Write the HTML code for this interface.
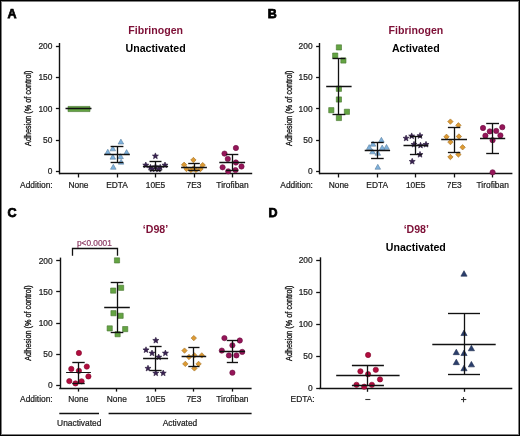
<!DOCTYPE html>
<html><head><meta charset="utf-8"><title>Figure</title>
<style>
html,body{margin:0;padding:0;background:#fff;}
body{width:520px;height:436px;overflow:hidden;font-family:"Liberation Sans",sans-serif;}
svg{display:block;will-change:transform;}
text{font-family:"Liberation Sans",sans-serif;}
</style></head><body>
<svg width="520" height="436" viewBox="0 0 520 436" font-family="Liberation Sans, sans-serif">
<rect x="0" y="0" width="520" height="436" fill="#fff"/>
<text x="7.60" y="17.90" font-size="12.5" text-anchor="start" font-weight="bold" fill="#000"  stroke="#000" stroke-width="0.75">A</text>
<text x="155.70" y="33.60" font-size="10.6" text-anchor="middle" font-weight="bold" fill="#7d0f36" >Fibrinogen</text>
<text x="155.60" y="51.90" font-size="10.6" text-anchor="middle" font-weight="bold" fill="#000" >Unactivated</text>
<line x1="59.50" y1="43.00" x2="59.50" y2="174.20" stroke="#111" stroke-width="1.4"/>
<line x1="55.90" y1="171.50" x2="59.70" y2="171.50" stroke="#111" stroke-width="1.3"/>
<text x="52.40" y="174.25" font-size="8.4" text-anchor="end" font-weight="normal" fill="#1c1c1c"  stroke="#1c1c1c" stroke-width="0.22">0</text>
<line x1="55.90" y1="140.50" x2="59.70" y2="140.50" stroke="#111" stroke-width="1.3"/>
<text x="52.40" y="142.95" font-size="8.4" text-anchor="end" font-weight="normal" fill="#1c1c1c"  stroke="#1c1c1c" stroke-width="0.22">50</text>
<line x1="55.90" y1="108.50" x2="59.70" y2="108.50" stroke="#111" stroke-width="1.3"/>
<text x="52.40" y="111.65" font-size="8.4" text-anchor="end" font-weight="normal" fill="#1c1c1c"  stroke="#1c1c1c" stroke-width="0.22">100</text>
<line x1="55.90" y1="77.50" x2="59.70" y2="77.50" stroke="#111" stroke-width="1.3"/>
<text x="52.40" y="80.35" font-size="8.4" text-anchor="end" font-weight="normal" fill="#1c1c1c"  stroke="#1c1c1c" stroke-width="0.22">150</text>
<line x1="55.90" y1="46.50" x2="59.70" y2="46.50" stroke="#111" stroke-width="1.3"/>
<text x="52.40" y="49.05" font-size="8.4" text-anchor="end" font-weight="normal" fill="#1c1c1c"  stroke="#1c1c1c" stroke-width="0.22">200</text>
<text transform="translate(31.40,108.20) rotate(-90)" x="0" y="0" font-size="8.3" text-anchor="middle" fill="#111" stroke="#111" stroke-width="0.3" textLength="75.5" lengthAdjust="spacingAndGlyphs">Adhesion (% of control)</text>
<line x1="59.00" y1="173.50" x2="252.20" y2="173.50" stroke="#111" stroke-width="1.4"/>
<line x1="78.50" y1="173.85" x2="78.50" y2="177.45" stroke="#111" stroke-width="1.3"/>
<line x1="117.50" y1="173.85" x2="117.50" y2="177.45" stroke="#111" stroke-width="1.3"/>
<line x1="155.50" y1="173.85" x2="155.50" y2="177.45" stroke="#111" stroke-width="1.3"/>
<line x1="194.50" y1="173.85" x2="194.50" y2="177.45" stroke="#111" stroke-width="1.3"/>
<line x1="232.50" y1="173.85" x2="232.50" y2="177.45" stroke="#111" stroke-width="1.3"/>
<text x="20.10" y="188.00" font-size="8.4" text-anchor="start" font-weight="normal" fill="#1c1c1c"  stroke="#1c1c1c" stroke-width="0.22">Addition:</text>
<text x="78.50" y="188.00" font-size="8.4" text-anchor="middle" font-weight="normal" fill="#1c1c1c"  stroke="#1c1c1c" stroke-width="0.22">None</text>
<text x="117.00" y="188.00" font-size="8.4" text-anchor="middle" font-weight="normal" fill="#1c1c1c"  stroke="#1c1c1c" stroke-width="0.22">EDTA</text>
<text x="155.50" y="188.00" font-size="8.4" text-anchor="middle" font-weight="normal" fill="#1c1c1c"  stroke="#1c1c1c" stroke-width="0.22">10E5</text>
<text x="194.00" y="188.00" font-size="8.4" text-anchor="middle" font-weight="normal" fill="#1c1c1c"  stroke="#1c1c1c" stroke-width="0.22">7E3</text>
<text x="232.50" y="188.00" font-size="8.4" text-anchor="middle" font-weight="normal" fill="#1c1c1c"  stroke="#1c1c1c" stroke-width="0.22">Tirofiban</text>
<rect x="68.00" y="106.40" width="22.0" height="5.2" fill="#64a443" stroke="#487630" stroke-width="0.6" stroke-linejoin="round"/>
<line x1="78.50" y1="108.50" x2="78.50" y2="108.50" stroke="#111" stroke-width="1.3"/>
<line x1="78.50" y1="108.50" x2="78.50" y2="108.50" stroke="#111" stroke-width="1.35"/>
<line x1="78.50" y1="108.50" x2="78.50" y2="108.50" stroke="#111" stroke-width="1.35"/>
<line x1="65.50" y1="108.50" x2="91.50" y2="108.50" stroke="#111" stroke-width="1.5"/>
<polygon points="120.90,139.10 123.70,144.03 118.10,144.03" fill="#7eb1dc" stroke="#5a7f9e" stroke-width="0.6" stroke-linejoin="round"/>
<polygon points="107.80,149.20 110.60,154.13 105.00,154.13" fill="#7eb1dc" stroke="#5a7f9e" stroke-width="0.6" stroke-linejoin="round"/>
<polygon points="126.60,149.60 129.40,154.53 123.80,154.53" fill="#7eb1dc" stroke="#5a7f9e" stroke-width="0.6" stroke-linejoin="round"/>
<polygon points="112.80,145.90 115.60,150.83 110.00,150.83" fill="#7eb1dc" stroke="#5a7f9e" stroke-width="0.6" stroke-linejoin="round"/>
<polygon points="112.80,154.20 115.60,159.13 110.00,159.13" fill="#7eb1dc" stroke="#5a7f9e" stroke-width="0.6" stroke-linejoin="round"/>
<polygon points="120.60,153.70 123.40,158.63 117.80,158.63" fill="#7eb1dc" stroke="#5a7f9e" stroke-width="0.6" stroke-linejoin="round"/>
<polygon points="121.10,159.20 123.90,164.13 118.30,164.13" fill="#7eb1dc" stroke="#5a7f9e" stroke-width="0.6" stroke-linejoin="round"/>
<polygon points="113.30,164.30 116.10,169.23 110.50,169.23" fill="#7eb1dc" stroke="#5a7f9e" stroke-width="0.6" stroke-linejoin="round"/>
<line x1="117.50" y1="146.50" x2="117.50" y2="162.70" stroke="#111" stroke-width="1.3"/>
<line x1="110.60" y1="146.50" x2="123.40" y2="146.50" stroke="#111" stroke-width="1.35"/>
<line x1="110.60" y1="162.50" x2="123.40" y2="162.50" stroke="#111" stroke-width="1.35"/>
<line x1="104.20" y1="154.50" x2="129.80" y2="154.50" stroke="#111" stroke-width="1.5"/>
<polygon points="155.40,152.90 156.22,154.97 158.44,155.11 156.73,156.53 157.28,158.69 155.40,157.50 153.52,158.69 154.07,156.53 152.36,155.11 154.58,154.97" fill="#3a2352" stroke="#29193b" stroke-width="0.6" stroke-linejoin="round"/>
<polygon points="145.80,162.00 146.62,164.07 148.84,164.21 147.13,165.63 147.68,167.79 145.80,166.60 143.92,167.79 144.47,165.63 142.76,164.21 144.98,164.07" fill="#3a2352" stroke="#29193b" stroke-width="0.6" stroke-linejoin="round"/>
<polygon points="165.00,162.00 165.82,164.07 168.04,164.21 166.33,165.63 166.88,167.79 165.00,166.60 163.12,167.79 163.67,165.63 161.96,164.21 164.18,164.07" fill="#3a2352" stroke="#29193b" stroke-width="0.6" stroke-linejoin="round"/>
<polygon points="150.50,164.30 151.32,166.37 153.54,166.51 151.83,167.93 152.38,170.09 150.50,168.90 148.62,170.09 149.17,167.93 147.46,166.51 149.68,166.37" fill="#3a2352" stroke="#29193b" stroke-width="0.6" stroke-linejoin="round"/>
<polygon points="155.50,163.60 156.32,165.67 158.54,165.81 156.83,167.23 157.38,169.39 155.50,168.20 153.62,169.39 154.17,167.23 152.46,165.81 154.68,165.67" fill="#3a2352" stroke="#29193b" stroke-width="0.6" stroke-linejoin="round"/>
<polygon points="160.20,164.30 161.02,166.37 163.24,166.51 161.53,167.93 162.08,170.09 160.20,168.90 158.32,170.09 158.87,167.93 157.16,166.51 159.38,166.37" fill="#3a2352" stroke="#29193b" stroke-width="0.6" stroke-linejoin="round"/>
<polygon points="152.20,166.00 153.02,168.07 155.24,168.21 153.53,169.63 154.08,171.79 152.20,170.60 150.32,171.79 150.87,169.63 149.16,168.21 151.38,168.07" fill="#3a2352" stroke="#29193b" stroke-width="0.6" stroke-linejoin="round"/>
<polygon points="158.40,166.20 159.22,168.27 161.44,168.41 159.73,169.83 160.28,171.99 158.40,170.80 156.52,171.99 157.07,169.83 155.36,168.41 157.58,168.27" fill="#3a2352" stroke="#29193b" stroke-width="0.6" stroke-linejoin="round"/>
<line x1="155.50" y1="161.70" x2="155.50" y2="170.40" stroke="#111" stroke-width="1.3"/>
<line x1="149.50" y1="161.50" x2="161.50" y2="161.50" stroke="#111" stroke-width="1.35"/>
<line x1="149.50" y1="170.50" x2="161.50" y2="170.50" stroke="#111" stroke-width="1.35"/>
<line x1="142.90" y1="166.50" x2="168.10" y2="166.50" stroke="#111" stroke-width="1.5"/>
<polygon points="193.40,157.30 196.10,160.00 193.40,162.70 190.70,160.00" fill="#dd9a33" stroke="#9f6e24" stroke-width="0.6" stroke-linejoin="round"/>
<polygon points="184.10,162.10 186.80,164.80 184.10,167.50 181.40,164.80" fill="#dd9a33" stroke="#9f6e24" stroke-width="0.6" stroke-linejoin="round"/>
<polygon points="202.70,162.40 205.40,165.10 202.70,167.80 200.00,165.10" fill="#dd9a33" stroke="#9f6e24" stroke-width="0.6" stroke-linejoin="round"/>
<polygon points="186.50,166.30 189.20,169.00 186.50,171.70 183.80,169.00" fill="#dd9a33" stroke="#9f6e24" stroke-width="0.6" stroke-linejoin="round"/>
<polygon points="191.00,167.30 193.70,170.00 191.00,172.70 188.30,170.00" fill="#dd9a33" stroke="#9f6e24" stroke-width="0.6" stroke-linejoin="round"/>
<polygon points="196.00,167.30 198.70,170.00 196.00,172.70 193.30,170.00" fill="#dd9a33" stroke="#9f6e24" stroke-width="0.6" stroke-linejoin="round"/>
<polygon points="200.50,166.30 203.20,169.00 200.50,171.70 197.80,169.00" fill="#dd9a33" stroke="#9f6e24" stroke-width="0.6" stroke-linejoin="round"/>
<polygon points="193.50,165.80 196.20,168.50 193.50,171.20 190.80,168.50" fill="#dd9a33" stroke="#9f6e24" stroke-width="0.6" stroke-linejoin="round"/>
<line x1="194.50" y1="163.70" x2="194.50" y2="170.80" stroke="#111" stroke-width="1.3"/>
<line x1="188.20" y1="163.50" x2="199.80" y2="163.50" stroke="#111" stroke-width="1.35"/>
<line x1="188.20" y1="170.50" x2="199.80" y2="170.50" stroke="#111" stroke-width="1.35"/>
<line x1="181.10" y1="167.50" x2="206.90" y2="167.50" stroke="#111" stroke-width="1.5"/>
<circle cx="235.90" cy="148.00" r="2.65" fill="#951559" stroke="#6b0f40" stroke-width="0.6" stroke-linejoin="round"/>
<circle cx="224.50" cy="153.60" r="2.65" fill="#951559" stroke="#6b0f40" stroke-width="0.6" stroke-linejoin="round"/>
<circle cx="227.80" cy="158.90" r="2.65" fill="#951559" stroke="#6b0f40" stroke-width="0.6" stroke-linejoin="round"/>
<circle cx="235.90" cy="162.50" r="2.65" fill="#951559" stroke="#6b0f40" stroke-width="0.6" stroke-linejoin="round"/>
<circle cx="222.60" cy="167.30" r="2.65" fill="#951559" stroke="#6b0f40" stroke-width="0.6" stroke-linejoin="round"/>
<circle cx="241.50" cy="166.50" r="2.65" fill="#951559" stroke="#6b0f40" stroke-width="0.6" stroke-linejoin="round"/>
<circle cx="228.20" cy="171.30" r="2.65" fill="#951559" stroke="#6b0f40" stroke-width="0.6" stroke-linejoin="round"/>
<circle cx="235.50" cy="170.10" r="2.65" fill="#951559" stroke="#6b0f40" stroke-width="0.6" stroke-linejoin="round"/>
<line x1="232.50" y1="154.30" x2="232.50" y2="170.50" stroke="#111" stroke-width="1.3"/>
<line x1="226.10" y1="154.50" x2="238.30" y2="154.50" stroke="#111" stroke-width="1.35"/>
<line x1="226.10" y1="170.50" x2="238.30" y2="170.50" stroke="#111" stroke-width="1.35"/>
<line x1="219.30" y1="162.50" x2="245.10" y2="162.50" stroke="#111" stroke-width="1.5"/>
<text x="267.80" y="17.90" font-size="12.5" text-anchor="start" font-weight="bold" fill="#000"  stroke="#000" stroke-width="0.75">B</text>
<text x="415.90" y="33.60" font-size="10.6" text-anchor="middle" font-weight="bold" fill="#7d0f36" >Fibrinogen</text>
<text x="415.80" y="51.90" font-size="10.6" text-anchor="middle" font-weight="bold" fill="#000" >Activated</text>
<line x1="319.50" y1="43.00" x2="319.50" y2="174.20" stroke="#111" stroke-width="1.4"/>
<line x1="316.10" y1="171.50" x2="319.90" y2="171.50" stroke="#111" stroke-width="1.3"/>
<text x="312.60" y="174.25" font-size="8.4" text-anchor="end" font-weight="normal" fill="#1c1c1c"  stroke="#1c1c1c" stroke-width="0.22">0</text>
<line x1="316.10" y1="140.50" x2="319.90" y2="140.50" stroke="#111" stroke-width="1.3"/>
<text x="312.60" y="142.95" font-size="8.4" text-anchor="end" font-weight="normal" fill="#1c1c1c"  stroke="#1c1c1c" stroke-width="0.22">50</text>
<line x1="316.10" y1="108.50" x2="319.90" y2="108.50" stroke="#111" stroke-width="1.3"/>
<text x="312.60" y="111.65" font-size="8.4" text-anchor="end" font-weight="normal" fill="#1c1c1c"  stroke="#1c1c1c" stroke-width="0.22">100</text>
<line x1="316.10" y1="77.50" x2="319.90" y2="77.50" stroke="#111" stroke-width="1.3"/>
<text x="312.60" y="80.35" font-size="8.4" text-anchor="end" font-weight="normal" fill="#1c1c1c"  stroke="#1c1c1c" stroke-width="0.22">150</text>
<line x1="316.10" y1="46.50" x2="319.90" y2="46.50" stroke="#111" stroke-width="1.3"/>
<text x="312.60" y="49.05" font-size="8.4" text-anchor="end" font-weight="normal" fill="#1c1c1c"  stroke="#1c1c1c" stroke-width="0.22">200</text>
<text transform="translate(291.60,108.20) rotate(-90)" x="0" y="0" font-size="8.3" text-anchor="middle" fill="#111" stroke="#111" stroke-width="0.3" textLength="75.5" lengthAdjust="spacingAndGlyphs">Adhesion (% of control)</text>
<line x1="319.20" y1="173.50" x2="512.40" y2="173.50" stroke="#111" stroke-width="1.4"/>
<line x1="338.50" y1="173.85" x2="338.50" y2="177.45" stroke="#111" stroke-width="1.3"/>
<line x1="377.50" y1="173.85" x2="377.50" y2="177.45" stroke="#111" stroke-width="1.3"/>
<line x1="415.50" y1="173.85" x2="415.50" y2="177.45" stroke="#111" stroke-width="1.3"/>
<line x1="454.50" y1="173.85" x2="454.50" y2="177.45" stroke="#111" stroke-width="1.3"/>
<line x1="492.50" y1="173.85" x2="492.50" y2="177.45" stroke="#111" stroke-width="1.3"/>
<text x="280.30" y="188.00" font-size="8.4" text-anchor="start" font-weight="normal" fill="#1c1c1c"  stroke="#1c1c1c" stroke-width="0.22">Addition:</text>
<text x="338.70" y="188.00" font-size="8.4" text-anchor="middle" font-weight="normal" fill="#1c1c1c"  stroke="#1c1c1c" stroke-width="0.22">None</text>
<text x="377.20" y="188.00" font-size="8.4" text-anchor="middle" font-weight="normal" fill="#1c1c1c"  stroke="#1c1c1c" stroke-width="0.22">EDTA</text>
<text x="415.70" y="188.00" font-size="8.4" text-anchor="middle" font-weight="normal" fill="#1c1c1c"  stroke="#1c1c1c" stroke-width="0.22">10E5</text>
<text x="454.20" y="188.00" font-size="8.4" text-anchor="middle" font-weight="normal" fill="#1c1c1c"  stroke="#1c1c1c" stroke-width="0.22">7E3</text>
<text x="492.70" y="188.00" font-size="8.4" text-anchor="middle" font-weight="normal" fill="#1c1c1c"  stroke="#1c1c1c" stroke-width="0.22">Tirofiban</text>
<rect x="336.30" y="44.80" width="5.20" height="5.20" fill="#64a443" stroke="#487630" stroke-width="0.6" stroke-linejoin="round"/>
<rect x="332.60" y="53.00" width="5.20" height="5.20" fill="#64a443" stroke="#487630" stroke-width="0.6" stroke-linejoin="round"/>
<rect x="340.80" y="57.90" width="5.20" height="5.20" fill="#64a443" stroke="#487630" stroke-width="0.6" stroke-linejoin="round"/>
<rect x="336.30" y="86.20" width="5.20" height="5.20" fill="#64a443" stroke="#487630" stroke-width="0.6" stroke-linejoin="round"/>
<rect x="336.30" y="96.90" width="5.20" height="5.20" fill="#64a443" stroke="#487630" stroke-width="0.6" stroke-linejoin="round"/>
<rect x="328.70" y="107.60" width="5.20" height="5.20" fill="#64a443" stroke="#487630" stroke-width="0.6" stroke-linejoin="round"/>
<rect x="344.30" y="109.20" width="5.20" height="5.20" fill="#64a443" stroke="#487630" stroke-width="0.6" stroke-linejoin="round"/>
<rect x="336.30" y="115.40" width="5.20" height="5.20" fill="#64a443" stroke="#487630" stroke-width="0.6" stroke-linejoin="round"/>
<line x1="338.50" y1="58.10" x2="338.50" y2="114.10" stroke="#111" stroke-width="1.3"/>
<line x1="332.50" y1="58.50" x2="345.30" y2="58.50" stroke="#111" stroke-width="1.35"/>
<line x1="332.50" y1="114.50" x2="345.30" y2="114.50" stroke="#111" stroke-width="1.35"/>
<line x1="326.20" y1="86.50" x2="351.60" y2="86.50" stroke="#111" stroke-width="1.5"/>
<polygon points="381.40,137.30 384.20,142.23 378.60,142.23" fill="#7eb1dc" stroke="#5a7f9e" stroke-width="0.6" stroke-linejoin="round"/>
<polygon points="373.00,141.20 375.80,146.13 370.20,146.13" fill="#7eb1dc" stroke="#5a7f9e" stroke-width="0.6" stroke-linejoin="round"/>
<polygon points="369.20,144.60 372.00,149.53 366.40,149.53" fill="#7eb1dc" stroke="#5a7f9e" stroke-width="0.6" stroke-linejoin="round"/>
<polygon points="386.50,144.40 389.30,149.33 383.70,149.33" fill="#7eb1dc" stroke="#5a7f9e" stroke-width="0.6" stroke-linejoin="round"/>
<polygon points="382.20,145.00 385.00,149.93 379.40,149.93" fill="#7eb1dc" stroke="#5a7f9e" stroke-width="0.6" stroke-linejoin="round"/>
<polygon points="372.50,148.90 375.30,153.83 369.70,153.83" fill="#7eb1dc" stroke="#5a7f9e" stroke-width="0.6" stroke-linejoin="round"/>
<polygon points="377.80,150.30 380.60,155.23 375.00,155.23" fill="#7eb1dc" stroke="#5a7f9e" stroke-width="0.6" stroke-linejoin="round"/>
<polygon points="377.80,164.30 380.60,169.23 375.00,169.23" fill="#7eb1dc" stroke="#5a7f9e" stroke-width="0.6" stroke-linejoin="round"/>
<line x1="377.50" y1="142.20" x2="377.50" y2="158.00" stroke="#111" stroke-width="1.3"/>
<line x1="371.10" y1="142.50" x2="383.70" y2="142.50" stroke="#111" stroke-width="1.35"/>
<line x1="371.10" y1="158.50" x2="383.70" y2="158.50" stroke="#111" stroke-width="1.35"/>
<line x1="364.70" y1="150.50" x2="390.10" y2="150.50" stroke="#111" stroke-width="1.5"/>
<polygon points="406.10,135.10 406.92,137.17 409.14,137.31 407.43,138.73 407.98,140.89 406.10,139.70 404.22,140.89 404.77,138.73 403.06,137.31 405.28,137.17" fill="#3a2352" stroke="#29193b" stroke-width="0.6" stroke-linejoin="round"/>
<polygon points="411.70,132.90 412.52,134.97 414.74,135.11 413.03,136.53 413.58,138.69 411.70,137.50 409.82,138.69 410.37,136.53 408.66,135.11 410.88,134.97" fill="#3a2352" stroke="#29193b" stroke-width="0.6" stroke-linejoin="round"/>
<polygon points="420.00,132.60 420.82,134.67 423.04,134.81 421.33,136.23 421.88,138.39 420.00,137.20 418.12,138.39 418.67,136.23 416.96,134.81 419.18,134.67" fill="#3a2352" stroke="#29193b" stroke-width="0.6" stroke-linejoin="round"/>
<polygon points="414.00,141.30 414.82,143.37 417.04,143.51 415.33,144.93 415.88,147.09 414.00,145.90 412.12,147.09 412.67,144.93 410.96,143.51 413.18,143.37" fill="#3a2352" stroke="#29193b" stroke-width="0.6" stroke-linejoin="round"/>
<polygon points="420.50,142.20 421.32,144.27 423.54,144.41 421.83,145.83 422.38,147.99 420.50,146.80 418.62,147.99 419.17,145.83 417.46,144.41 419.68,144.27" fill="#3a2352" stroke="#29193b" stroke-width="0.6" stroke-linejoin="round"/>
<polygon points="426.00,141.30 426.82,143.37 429.04,143.51 427.33,144.93 427.88,147.09 426.00,145.90 424.12,147.09 424.67,144.93 422.96,143.51 425.18,143.37" fill="#3a2352" stroke="#29193b" stroke-width="0.6" stroke-linejoin="round"/>
<polygon points="420.00,151.40 420.82,153.47 423.04,153.61 421.33,155.03 421.88,157.19 420.00,156.00 418.12,157.19 418.67,155.03 416.96,153.61 419.18,153.47" fill="#3a2352" stroke="#29193b" stroke-width="0.6" stroke-linejoin="round"/>
<polygon points="412.20,158.30 413.02,160.37 415.24,160.51 413.53,161.93 414.08,164.09 412.20,162.90 410.32,164.09 410.87,161.93 409.16,160.51 411.38,160.37" fill="#3a2352" stroke="#29193b" stroke-width="0.6" stroke-linejoin="round"/>
<line x1="415.50" y1="136.40" x2="415.50" y2="154.10" stroke="#111" stroke-width="1.3"/>
<line x1="409.90" y1="136.50" x2="421.90" y2="136.50" stroke="#111" stroke-width="1.35"/>
<line x1="409.90" y1="154.50" x2="421.90" y2="154.50" stroke="#111" stroke-width="1.35"/>
<line x1="403.50" y1="145.50" x2="428.30" y2="145.50" stroke="#111" stroke-width="1.5"/>
<polygon points="450.40,118.90 453.10,121.60 450.40,124.30 447.70,121.60" fill="#dd9a33" stroke="#9f6e24" stroke-width="0.6" stroke-linejoin="round"/>
<polygon points="458.40,122.60 461.10,125.30 458.40,128.00 455.70,125.30" fill="#dd9a33" stroke="#9f6e24" stroke-width="0.6" stroke-linejoin="round"/>
<polygon points="446.50,134.10 449.20,136.80 446.50,139.50 443.80,136.80" fill="#dd9a33" stroke="#9f6e24" stroke-width="0.6" stroke-linejoin="round"/>
<polygon points="458.90,133.80 461.60,136.50 458.90,139.20 456.20,136.50" fill="#dd9a33" stroke="#9f6e24" stroke-width="0.6" stroke-linejoin="round"/>
<polygon points="450.40,139.40 453.10,142.10 450.40,144.80 447.70,142.10" fill="#dd9a33" stroke="#9f6e24" stroke-width="0.6" stroke-linejoin="round"/>
<polygon points="462.60,144.60 465.30,147.30 462.60,150.00 459.90,147.30" fill="#dd9a33" stroke="#9f6e24" stroke-width="0.6" stroke-linejoin="round"/>
<polygon points="458.40,151.80 461.10,154.50 458.40,157.20 455.70,154.50" fill="#dd9a33" stroke="#9f6e24" stroke-width="0.6" stroke-linejoin="round"/>
<polygon points="450.40,154.30 453.10,157.00 450.40,159.70 447.70,157.00" fill="#dd9a33" stroke="#9f6e24" stroke-width="0.6" stroke-linejoin="round"/>
<line x1="454.50" y1="127.20" x2="454.50" y2="152.60" stroke="#111" stroke-width="1.3"/>
<line x1="447.90" y1="127.50" x2="460.30" y2="127.50" stroke="#111" stroke-width="1.35"/>
<line x1="447.90" y1="152.50" x2="460.30" y2="152.50" stroke="#111" stroke-width="1.35"/>
<line x1="441.20" y1="139.50" x2="467.00" y2="139.50" stroke="#111" stroke-width="1.5"/>
<circle cx="483.00" cy="128.00" r="2.65" fill="#951559" stroke="#6b0f40" stroke-width="0.6" stroke-linejoin="round"/>
<circle cx="502.30" cy="127.20" r="2.65" fill="#951559" stroke="#6b0f40" stroke-width="0.6" stroke-linejoin="round"/>
<circle cx="489.80" cy="131.40" r="2.65" fill="#951559" stroke="#6b0f40" stroke-width="0.6" stroke-linejoin="round"/>
<circle cx="496.20" cy="130.90" r="2.65" fill="#951559" stroke="#6b0f40" stroke-width="0.6" stroke-linejoin="round"/>
<circle cx="485.40" cy="135.70" r="2.65" fill="#951559" stroke="#6b0f40" stroke-width="0.6" stroke-linejoin="round"/>
<circle cx="500.40" cy="135.40" r="2.65" fill="#951559" stroke="#6b0f40" stroke-width="0.6" stroke-linejoin="round"/>
<circle cx="492.60" cy="140.20" r="2.65" fill="#951559" stroke="#6b0f40" stroke-width="0.6" stroke-linejoin="round"/>
<circle cx="492.60" cy="172.30" r="2.65" fill="#951559" stroke="#6b0f40" stroke-width="0.6" stroke-linejoin="round"/>
<line x1="492.50" y1="123.20" x2="492.50" y2="153.00" stroke="#111" stroke-width="1.3"/>
<line x1="486.20" y1="123.50" x2="499.00" y2="123.50" stroke="#111" stroke-width="1.35"/>
<line x1="486.20" y1="153.50" x2="499.00" y2="153.50" stroke="#111" stroke-width="1.35"/>
<line x1="480.00" y1="138.50" x2="505.20" y2="138.50" stroke="#111" stroke-width="1.5"/>
<text x="7.60" y="217.20" font-size="12.5" text-anchor="start" font-weight="bold" fill="#000"  stroke="#000" stroke-width="0.75">C</text>
<text x="155.50" y="233.00" font-size="10.6" text-anchor="middle" font-weight="bold" fill="#7d0f36" >‘D98’</text>
<line x1="60.50" y1="257.60" x2="60.50" y2="388.60" stroke="#111" stroke-width="1.4"/>
<line x1="56.20" y1="385.50" x2="60.00" y2="385.50" stroke="#111" stroke-width="1.3"/>
<text x="52.70" y="388.45" font-size="8.4" text-anchor="end" font-weight="normal" fill="#1c1c1c"  stroke="#1c1c1c" stroke-width="0.22">0</text>
<line x1="56.20" y1="354.50" x2="60.00" y2="354.50" stroke="#111" stroke-width="1.3"/>
<text x="52.70" y="357.22" font-size="8.4" text-anchor="end" font-weight="normal" fill="#1c1c1c"  stroke="#1c1c1c" stroke-width="0.22">50</text>
<line x1="56.20" y1="323.50" x2="60.00" y2="323.50" stroke="#111" stroke-width="1.3"/>
<text x="52.70" y="326.00" font-size="8.4" text-anchor="end" font-weight="normal" fill="#1c1c1c"  stroke="#1c1c1c" stroke-width="0.22">100</text>
<line x1="56.20" y1="291.50" x2="60.00" y2="291.50" stroke="#111" stroke-width="1.3"/>
<text x="52.70" y="294.78" font-size="8.4" text-anchor="end" font-weight="normal" fill="#1c1c1c"  stroke="#1c1c1c" stroke-width="0.22">150</text>
<line x1="56.20" y1="260.50" x2="60.00" y2="260.50" stroke="#111" stroke-width="1.3"/>
<text x="52.70" y="263.55" font-size="8.4" text-anchor="end" font-weight="normal" fill="#1c1c1c"  stroke="#1c1c1c" stroke-width="0.22">200</text>
<text transform="translate(31.40,323.00) rotate(-90)" x="0" y="0" font-size="8.3" text-anchor="middle" fill="#111" stroke="#111" stroke-width="0.3" textLength="75.5" lengthAdjust="spacingAndGlyphs">Adhesion (% of control)</text>
<line x1="59.30" y1="388.50" x2="251.60" y2="388.50" stroke="#111" stroke-width="1.4"/>
<line x1="78.50" y1="388.00" x2="78.50" y2="391.60" stroke="#111" stroke-width="1.3"/>
<line x1="116.50" y1="388.00" x2="116.50" y2="391.60" stroke="#111" stroke-width="1.3"/>
<line x1="155.50" y1="388.00" x2="155.50" y2="391.60" stroke="#111" stroke-width="1.3"/>
<line x1="193.50" y1="388.00" x2="193.50" y2="391.60" stroke="#111" stroke-width="1.3"/>
<line x1="232.50" y1="388.00" x2="232.50" y2="391.60" stroke="#111" stroke-width="1.3"/>
<text x="20.10" y="402.30" font-size="8.4" text-anchor="start" font-weight="normal" fill="#1c1c1c"  stroke="#1c1c1c" stroke-width="0.22">Addition:</text>
<text x="78.30" y="402.30" font-size="8.4" text-anchor="middle" font-weight="normal" fill="#1c1c1c"  stroke="#1c1c1c" stroke-width="0.22">None</text>
<text x="116.80" y="402.30" font-size="8.4" text-anchor="middle" font-weight="normal" fill="#1c1c1c"  stroke="#1c1c1c" stroke-width="0.22">None</text>
<text x="155.60" y="402.30" font-size="8.4" text-anchor="middle" font-weight="normal" fill="#1c1c1c"  stroke="#1c1c1c" stroke-width="0.22">10E5</text>
<text x="193.90" y="402.30" font-size="8.4" text-anchor="middle" font-weight="normal" fill="#1c1c1c"  stroke="#1c1c1c" stroke-width="0.22">7E3</text>
<text x="232.40" y="402.30" font-size="8.4" text-anchor="middle" font-weight="normal" fill="#1c1c1c"  stroke="#1c1c1c" stroke-width="0.22">Tirofiban</text>
<polyline points="72.5,255.8 72.5,248.5 117.5,248.5 117.5,255.8" fill="none" stroke="#111" stroke-width="1.3"/>
<text x="94.40" y="246.10" font-size="8.3" text-anchor="middle" font-weight="normal" fill="#8f3f68"  stroke="#8f3f68" stroke-width="0.22">p&lt;0.0001</text>
<line x1="59.30" y1="413.50" x2="99.00" y2="413.50" stroke="#111" stroke-width="1.4"/>
<line x1="108.60" y1="413.50" x2="251.60" y2="413.50" stroke="#111" stroke-width="1.4"/>
<text x="79.20" y="425.80" font-size="8.4" text-anchor="middle" font-weight="normal" fill="#1c1c1c"  stroke="#1c1c1c" stroke-width="0.22">Unactivated</text>
<text x="180.00" y="425.60" font-size="8.4" text-anchor="middle" font-weight="normal" fill="#1c1c1c"  stroke="#1c1c1c" stroke-width="0.22">Activated</text>
<circle cx="78.90" cy="353.00" r="2.65" fill="#b20c3e" stroke="#80082c" stroke-width="0.6" stroke-linejoin="round"/>
<circle cx="71.30" cy="368.90" r="2.65" fill="#b20c3e" stroke="#80082c" stroke-width="0.6" stroke-linejoin="round"/>
<circle cx="86.80" cy="366.60" r="2.65" fill="#b20c3e" stroke="#80082c" stroke-width="0.6" stroke-linejoin="round"/>
<circle cx="78.90" cy="370.80" r="2.65" fill="#b20c3e" stroke="#80082c" stroke-width="0.6" stroke-linejoin="round"/>
<circle cx="88.40" cy="376.40" r="2.65" fill="#b20c3e" stroke="#80082c" stroke-width="0.6" stroke-linejoin="round"/>
<circle cx="69.30" cy="381.10" r="2.65" fill="#b20c3e" stroke="#80082c" stroke-width="0.6" stroke-linejoin="round"/>
<circle cx="75.50" cy="383.40" r="2.65" fill="#b20c3e" stroke="#80082c" stroke-width="0.6" stroke-linejoin="round"/>
<circle cx="81.60" cy="381.30" r="2.65" fill="#b20c3e" stroke="#80082c" stroke-width="0.6" stroke-linejoin="round"/>
<line x1="78.50" y1="362.30" x2="78.50" y2="383.00" stroke="#111" stroke-width="1.3"/>
<line x1="72.30" y1="362.50" x2="84.70" y2="362.50" stroke="#111" stroke-width="1.35"/>
<line x1="72.30" y1="383.50" x2="84.70" y2="383.50" stroke="#111" stroke-width="1.35"/>
<line x1="66.10" y1="372.50" x2="90.90" y2="372.50" stroke="#111" stroke-width="False"/>
<rect x="114.40" y="257.80" width="5.20" height="5.20" fill="#64a443" stroke="#487630" stroke-width="0.6" stroke-linejoin="round"/>
<rect x="110.60" y="288.00" width="5.20" height="5.20" fill="#64a443" stroke="#487630" stroke-width="0.6" stroke-linejoin="round"/>
<rect x="118.50" y="285.20" width="5.20" height="5.20" fill="#64a443" stroke="#487630" stroke-width="0.6" stroke-linejoin="round"/>
<rect x="110.90" y="310.60" width="5.20" height="5.20" fill="#64a443" stroke="#487630" stroke-width="0.6" stroke-linejoin="round"/>
<rect x="118.00" y="313.20" width="5.20" height="5.20" fill="#64a443" stroke="#487630" stroke-width="0.6" stroke-linejoin="round"/>
<rect x="107.10" y="325.80" width="5.20" height="5.20" fill="#64a443" stroke="#487630" stroke-width="0.6" stroke-linejoin="round"/>
<rect x="122.60" y="326.50" width="5.20" height="5.20" fill="#64a443" stroke="#487630" stroke-width="0.6" stroke-linejoin="round"/>
<rect x="115.00" y="331.60" width="5.20" height="5.20" fill="#64a443" stroke="#487630" stroke-width="0.6" stroke-linejoin="round"/>
<line x1="117.50" y1="282.00" x2="117.50" y2="332.60" stroke="#111" stroke-width="1.3"/>
<line x1="110.70" y1="282.50" x2="123.30" y2="282.50" stroke="#111" stroke-width="1.35"/>
<line x1="110.70" y1="332.50" x2="123.30" y2="332.50" stroke="#111" stroke-width="1.35"/>
<line x1="104.20" y1="307.50" x2="129.80" y2="307.50" stroke="#111" stroke-width="1.5"/>
<polygon points="155.80,337.30 156.62,339.37 158.84,339.51 157.13,340.93 157.68,343.09 155.80,341.90 153.92,343.09 154.47,340.93 152.76,339.51 154.98,339.37" fill="#3a2352" stroke="#29193b" stroke-width="0.6" stroke-linejoin="round"/>
<polygon points="146.00,346.80 146.82,348.87 149.04,349.01 147.33,350.43 147.88,352.59 146.00,351.40 144.12,352.59 144.67,350.43 142.96,349.01 145.18,348.87" fill="#3a2352" stroke="#29193b" stroke-width="0.6" stroke-linejoin="round"/>
<polygon points="152.00,350.00 152.82,352.07 155.04,352.21 153.33,353.63 153.88,355.79 152.00,354.60 150.12,355.79 150.67,353.63 148.96,352.21 151.18,352.07" fill="#3a2352" stroke="#29193b" stroke-width="0.6" stroke-linejoin="round"/>
<polygon points="165.40,350.00 166.22,352.07 168.44,352.21 166.73,353.63 167.28,355.79 165.40,354.60 163.52,355.79 164.07,353.63 162.36,352.21 164.58,352.07" fill="#3a2352" stroke="#29193b" stroke-width="0.6" stroke-linejoin="round"/>
<polygon points="158.70,354.00 159.52,356.07 161.74,356.21 160.03,357.63 160.58,359.79 158.70,358.60 156.82,359.79 157.37,357.63 155.66,356.21 157.88,356.07" fill="#3a2352" stroke="#29193b" stroke-width="0.6" stroke-linejoin="round"/>
<polygon points="148.00,365.20 148.82,367.27 151.04,367.41 149.33,368.83 149.88,370.99 148.00,369.80 146.12,370.99 146.67,368.83 144.96,367.41 147.18,367.27" fill="#3a2352" stroke="#29193b" stroke-width="0.6" stroke-linejoin="round"/>
<polygon points="155.80,370.00 156.62,372.07 158.84,372.21 157.13,373.63 157.68,375.79 155.80,374.60 153.92,375.79 154.47,373.63 152.76,372.21 154.98,372.07" fill="#3a2352" stroke="#29193b" stroke-width="0.6" stroke-linejoin="round"/>
<polygon points="163.20,370.00 164.02,372.07 166.24,372.21 164.53,373.63 165.08,375.79 163.20,374.60 161.32,375.79 161.87,373.63 160.16,372.21 162.38,372.07" fill="#3a2352" stroke="#29193b" stroke-width="0.6" stroke-linejoin="round"/>
<line x1="155.50" y1="346.60" x2="155.50" y2="370.50" stroke="#111" stroke-width="1.3"/>
<line x1="149.60" y1="346.50" x2="161.60" y2="346.50" stroke="#111" stroke-width="1.35"/>
<line x1="149.60" y1="370.50" x2="161.60" y2="370.50" stroke="#111" stroke-width="1.35"/>
<line x1="143.10" y1="358.50" x2="168.10" y2="358.50" stroke="#111" stroke-width="1.5"/>
<polygon points="193.80,335.40 196.50,338.10 193.80,340.80 191.10,338.10" fill="#dd9a33" stroke="#9f6e24" stroke-width="0.6" stroke-linejoin="round"/>
<polygon points="184.50,347.90 187.20,350.60 184.50,353.30 181.80,350.60" fill="#dd9a33" stroke="#9f6e24" stroke-width="0.6" stroke-linejoin="round"/>
<polygon points="194.40,352.70 197.10,355.40 194.40,358.10 191.70,355.40" fill="#dd9a33" stroke="#9f6e24" stroke-width="0.6" stroke-linejoin="round"/>
<polygon points="201.80,352.70 204.50,355.40 201.80,358.10 199.10,355.40" fill="#dd9a33" stroke="#9f6e24" stroke-width="0.6" stroke-linejoin="round"/>
<polygon points="185.30,361.20 188.00,363.90 185.30,366.60 182.60,363.90" fill="#dd9a33" stroke="#9f6e24" stroke-width="0.6" stroke-linejoin="round"/>
<polygon points="194.40,365.70 197.10,368.40 194.40,371.10 191.70,368.40" fill="#dd9a33" stroke="#9f6e24" stroke-width="0.6" stroke-linejoin="round"/>
<polygon points="198.60,361.20 201.30,363.90 198.60,366.60 195.90,363.90" fill="#dd9a33" stroke="#9f6e24" stroke-width="0.6" stroke-linejoin="round"/>
<polygon points="189.00,354.30 191.70,357.00 189.00,359.70 186.30,357.00" fill="#dd9a33" stroke="#9f6e24" stroke-width="0.6" stroke-linejoin="round"/>
<line x1="193.50" y1="347.40" x2="193.50" y2="366.50" stroke="#111" stroke-width="1.3"/>
<line x1="188.30" y1="347.50" x2="199.50" y2="347.50" stroke="#111" stroke-width="1.35"/>
<line x1="188.30" y1="366.50" x2="199.50" y2="366.50" stroke="#111" stroke-width="1.35"/>
<line x1="181.60" y1="356.50" x2="206.20" y2="356.50" stroke="#111" stroke-width="1.5"/>
<circle cx="224.40" cy="338.10" r="2.65" fill="#951559" stroke="#6b0f40" stroke-width="0.6" stroke-linejoin="round"/>
<circle cx="239.80" cy="340.50" r="2.65" fill="#951559" stroke="#6b0f40" stroke-width="0.6" stroke-linejoin="round"/>
<circle cx="232.40" cy="345.30" r="2.65" fill="#951559" stroke="#6b0f40" stroke-width="0.6" stroke-linejoin="round"/>
<circle cx="221.80" cy="350.60" r="2.65" fill="#951559" stroke="#6b0f40" stroke-width="0.6" stroke-linejoin="round"/>
<circle cx="242.20" cy="351.90" r="2.65" fill="#951559" stroke="#6b0f40" stroke-width="0.6" stroke-linejoin="round"/>
<circle cx="228.90" cy="355.40" r="2.65" fill="#951559" stroke="#6b0f40" stroke-width="0.6" stroke-linejoin="round"/>
<circle cx="236.40" cy="355.40" r="2.65" fill="#951559" stroke="#6b0f40" stroke-width="0.6" stroke-linejoin="round"/>
<circle cx="232.40" cy="372.70" r="2.65" fill="#951559" stroke="#6b0f40" stroke-width="0.6" stroke-linejoin="round"/>
<line x1="232.50" y1="340.50" x2="232.50" y2="362.60" stroke="#111" stroke-width="1.3"/>
<line x1="226.80" y1="340.50" x2="238.00" y2="340.50" stroke="#111" stroke-width="1.35"/>
<line x1="226.80" y1="362.50" x2="238.00" y2="362.50" stroke="#111" stroke-width="1.35"/>
<line x1="219.80" y1="351.50" x2="245.00" y2="351.50" stroke="#111" stroke-width="1.5"/>
<text x="268.60" y="217.20" font-size="12.5" text-anchor="start" font-weight="bold" fill="#000"  stroke="#000" stroke-width="0.75">D</text>
<text x="416.30" y="233.10" font-size="10.6" text-anchor="middle" font-weight="bold" fill="#7d0f36" >‘D98’</text>
<text x="415.80" y="251.40" font-size="10.6" text-anchor="middle" font-weight="bold" fill="#000" >Unactivated</text>
<line x1="320.50" y1="257.30" x2="320.50" y2="388.60" stroke="#111" stroke-width="1.4"/>
<line x1="316.20" y1="388.50" x2="320.00" y2="388.50" stroke="#111" stroke-width="1.3"/>
<text x="312.70" y="390.95" font-size="8.4" text-anchor="end" font-weight="normal" fill="#1c1c1c"  stroke="#1c1c1c" stroke-width="0.22">0</text>
<line x1="316.20" y1="356.50" x2="320.00" y2="356.50" stroke="#111" stroke-width="1.3"/>
<text x="312.70" y="358.95" font-size="8.4" text-anchor="end" font-weight="normal" fill="#1c1c1c"  stroke="#1c1c1c" stroke-width="0.22">50</text>
<line x1="316.20" y1="324.50" x2="320.00" y2="324.50" stroke="#111" stroke-width="1.3"/>
<text x="312.70" y="326.95" font-size="8.4" text-anchor="end" font-weight="normal" fill="#1c1c1c"  stroke="#1c1c1c" stroke-width="0.22">100</text>
<line x1="316.20" y1="292.50" x2="320.00" y2="292.50" stroke="#111" stroke-width="1.3"/>
<text x="312.70" y="294.95" font-size="8.4" text-anchor="end" font-weight="normal" fill="#1c1c1c"  stroke="#1c1c1c" stroke-width="0.22">150</text>
<line x1="316.20" y1="260.50" x2="320.00" y2="260.50" stroke="#111" stroke-width="1.3"/>
<text x="312.70" y="262.95" font-size="8.4" text-anchor="end" font-weight="normal" fill="#1c1c1c"  stroke="#1c1c1c" stroke-width="0.22">200</text>
<text transform="translate(291.60,323.20) rotate(-90)" x="0" y="0" font-size="8.3" text-anchor="middle" fill="#111" stroke="#111" stroke-width="0.3" textLength="75.5" lengthAdjust="spacingAndGlyphs">Adhesion (% of control)</text>
<line x1="319.30" y1="388.50" x2="512.30" y2="388.50" stroke="#111" stroke-width="1.4"/>
<line x1="367.50" y1="388.20" x2="367.50" y2="391.80" stroke="#111" stroke-width="1.3"/>
<line x1="464.50" y1="388.20" x2="464.50" y2="391.80" stroke="#111" stroke-width="1.3"/>
<text x="290.60" y="402.30" font-size="8.4" text-anchor="start" font-weight="normal" fill="#1c1c1c"  stroke="#1c1c1c" stroke-width="0.22">EDTA:</text>
<line x1="365.30" y1="399.50" x2="370.40" y2="399.50" stroke="#333" stroke-width="1.1"/>
<line x1="461.00" y1="399.50" x2="466.30" y2="399.50" stroke="#333" stroke-width="1.1"/>
<line x1="463.50" y1="397.00" x2="463.50" y2="402.30" stroke="#333" stroke-width="1.1"/>
<circle cx="368.10" cy="355.00" r="2.65" fill="#b20c3e" stroke="#80082c" stroke-width="0.6" stroke-linejoin="round"/>
<circle cx="360.40" cy="371.30" r="2.65" fill="#b20c3e" stroke="#80082c" stroke-width="0.6" stroke-linejoin="round"/>
<circle cx="375.80" cy="369.80" r="2.65" fill="#b20c3e" stroke="#80082c" stroke-width="0.6" stroke-linejoin="round"/>
<circle cx="368.10" cy="374.20" r="2.65" fill="#b20c3e" stroke="#80082c" stroke-width="0.6" stroke-linejoin="round"/>
<circle cx="380.00" cy="379.40" r="2.65" fill="#b20c3e" stroke="#80082c" stroke-width="0.6" stroke-linejoin="round"/>
<circle cx="356.50" cy="384.80" r="2.65" fill="#b20c3e" stroke="#80082c" stroke-width="0.6" stroke-linejoin="round"/>
<circle cx="364.20" cy="386.70" r="2.65" fill="#b20c3e" stroke="#80082c" stroke-width="0.6" stroke-linejoin="round"/>
<circle cx="371.90" cy="384.80" r="2.65" fill="#b20c3e" stroke="#80082c" stroke-width="0.6" stroke-linejoin="round"/>
<line x1="367.50" y1="365.60" x2="367.50" y2="385.80" stroke="#111" stroke-width="1.3"/>
<line x1="351.90" y1="365.50" x2="383.90" y2="365.50" stroke="#111" stroke-width="1.35"/>
<line x1="351.90" y1="385.50" x2="383.90" y2="385.50" stroke="#111" stroke-width="1.35"/>
<line x1="336.20" y1="375.50" x2="399.60" y2="375.50" stroke="#111" stroke-width="1.5"/>
<polygon points="464.00,270.70 467.10,276.16 460.90,276.16" fill="#2a3e6c" stroke="#1e2c4d" stroke-width="0.6" stroke-linejoin="round"/>
<polygon points="464.00,330.10 467.10,335.56 460.90,335.56" fill="#2a3e6c" stroke="#1e2c4d" stroke-width="0.6" stroke-linejoin="round"/>
<polygon points="456.30,349.20 459.40,354.66 453.20,354.66" fill="#2a3e6c" stroke="#1e2c4d" stroke-width="0.6" stroke-linejoin="round"/>
<polygon points="471.40,345.30 474.50,350.76 468.30,350.76" fill="#2a3e6c" stroke="#1e2c4d" stroke-width="0.6" stroke-linejoin="round"/>
<polygon points="464.00,350.10 467.10,355.56 460.90,355.56" fill="#2a3e6c" stroke="#1e2c4d" stroke-width="0.6" stroke-linejoin="round"/>
<polygon points="456.30,359.20 459.40,364.66 453.20,364.66" fill="#2a3e6c" stroke="#1e2c4d" stroke-width="0.6" stroke-linejoin="round"/>
<polygon points="471.40,361.40 474.50,366.86 468.30,366.86" fill="#2a3e6c" stroke="#1e2c4d" stroke-width="0.6" stroke-linejoin="round"/>
<polygon points="464.00,365.30 467.10,370.76 460.90,370.76" fill="#2a3e6c" stroke="#1e2c4d" stroke-width="0.6" stroke-linejoin="round"/>
<line x1="464.50" y1="313.60" x2="464.50" y2="374.10" stroke="#111" stroke-width="1.3"/>
<line x1="448.00" y1="313.50" x2="480.00" y2="313.50" stroke="#111" stroke-width="1.35"/>
<line x1="448.00" y1="374.50" x2="480.00" y2="374.50" stroke="#111" stroke-width="1.35"/>
<line x1="432.30" y1="344.50" x2="495.70" y2="344.50" stroke="#111" stroke-width="1.5"/>
<rect x="0.5" y="0.5" width="519" height="435" fill="none" stroke="#000" stroke-width="1"/>
<rect x="1.5" y="1.5" width="517" height="433" fill="none" stroke="#808080" stroke-width="1"/>
</svg>
</body></html>
